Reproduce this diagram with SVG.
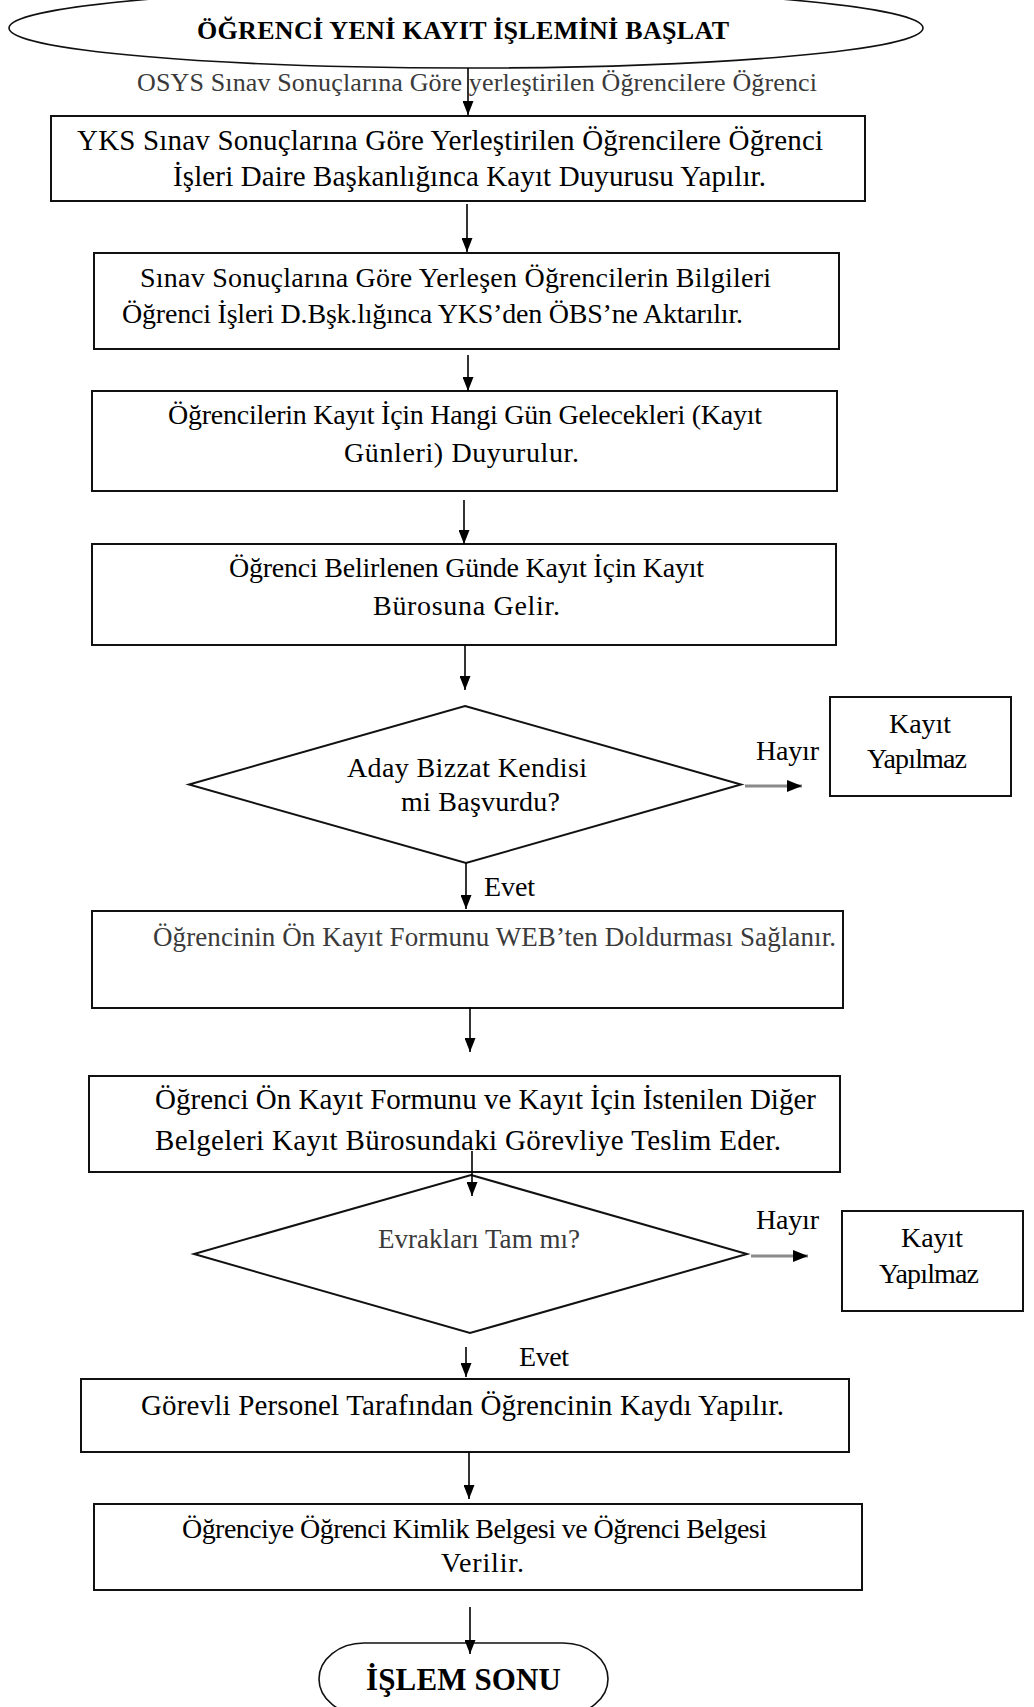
<svg xmlns="http://www.w3.org/2000/svg" width="1034" height="1707" viewBox="0 0 1034 1707" font-size="28">
<defs>
<marker id="ah" viewBox="0 0 14 11" refX="14" refY="5.5" markerWidth="14" markerHeight="11" orient="auto" markerUnits="userSpaceOnUse"><path d="M0,0 L14,5.5 L0,11 z" fill="#000"/></marker>
<marker id="ah2" viewBox="0 0 15 12" refX="15" refY="6" markerWidth="15" markerHeight="12" orient="auto" markerUnits="userSpaceOnUse"><path d="M0,0 L15,6 L0,12 z" fill="#000"/></marker>
</defs>
<style>
text{font-family:"Liberation Serif","Times New Roman",serif;fill:#000}
.b{font-weight:bold}
.g{fill:#3a3a3a}
.box{fill:#fff;stroke:#111;stroke-width:2}
.dia{fill:#fff;stroke:#111;stroke-width:2}
.term{fill:#fff;stroke:#111;stroke-width:1.6}
.c{stroke:#000;stroke-width:1.6;fill:none;marker-end:url(#ah)}
.h{stroke:#8a8a8a;stroke-width:3;fill:none;marker-end:url(#ah2)}
</style>
<rect width="1034" height="1707" fill="#fff"/>
<g id="start">
<ellipse class="term" cx="466" cy="28" rx="457" ry="40"/>
<text class="b" x="197" y="39" font-size="26" textLength="532">ÖĞRENCİ YENİ KAYIT İŞLEMİNİ BAŞLAT</text>
</g>
<g id="note">
<text class="g" x="137" y="91" font-size="26" textLength="680">OSYS Sınav Sonuçlarına Göre yerleştirilen Öğrencilere Öğrenci</text>
</g>
<g id="n1">
<rect class="box" x="51" y="116" width="814" height="85"/>
<text x="77" y="150" font-size="29" textLength="746">YKS Sınav Sonuçlarına Göre Yerleştirilen Öğrencilere Öğrenci</text>
<text x="173" y="185.5" font-size="29" textLength="593">İşleri Daire Başkanlığınca Kayıt Duyurusu Yapılır.</text>
</g>
<g id="n2">
<rect class="box" x="94" y="253" width="745" height="96"/>
<text x="140" y="287" textLength="631">Sınav Sonuçlarına Göre Yerleşen Öğrencilerin Bilgileri</text>
<text x="122" y="323" textLength="621">Öğrenci İşleri D.Bşk.lığınca YKS’den ÖBS’ne Aktarılır.</text>
</g>
<g id="n3">
<rect class="box" x="92" y="391" width="745" height="100"/>
<text x="168" y="424" textLength="594">Öğrencilerin Kayıt İçin Hangi Gün Gelecekleri (Kayıt</text>
<text x="344" y="462" textLength="235">Günleri) Duyurulur.</text>
</g>
<g id="n4">
<rect class="box" x="92" y="544" width="744" height="101"/>
<text x="229" y="577" textLength="475">Öğrenci Belirlenen Günde Kayıt İçin Kayıt</text>
<text x="373" y="615" textLength="187">Bürosuna Gelir.</text>
</g>
<g id="d1">
<polygon class="dia" points="465,706 741,784.5 466,863 189,784.5"/>
<text x="347" y="776.5" textLength="240">Aday Bizzat Kendisi</text>
<text x="401" y="811" textLength="159">mi Başvurdu?</text>
</g>
<g id="r1">
<rect class="box" x="830" y="697" width="181" height="99"/>
<text x="889" y="732.5" textLength="62">Kayıt</text>
<text x="867" y="768" textLength="100">Yapılmaz</text>
</g>
<g id="n5">
<rect class="box" x="92" y="911" width="751" height="97"/>
<text class="g" x="153" y="946" font-size="27" textLength="683">Öğrencinin Ön Kayıt Formunu WEB’ten Doldurması Sağlanır.</text>
</g>
<g id="n6">
<rect class="box" x="89" y="1076" width="751" height="96"/>
<text x="155" y="1109" font-size="29" textLength="661">Öğrenci Ön Kayıt Formunu ve Kayıt İçin İstenilen Diğer</text>
<text x="155" y="1150" font-size="29" textLength="626">Belgeleri Kayıt Bürosundaki Görevliye Teslim Eder.</text>
</g>
<g id="d2">
<polygon class="dia" points="471,1175 747,1254 470,1333 194,1254"/>
<text class="g" x="378" y="1248" font-size="27" textLength="202">Evrakları Tam mı?</text>
</g>
<g id="r2">
<rect class="box" x="842" y="1211" width="181" height="100"/>
<text x="901" y="1247" textLength="62">Kayıt</text>
<text x="879" y="1283" textLength="100">Yapılmaz</text>
</g>
<g id="n7">
<rect class="box" x="81" y="1379" width="768" height="73"/>
<text x="141" y="1415" font-size="29" textLength="643">Görevli Personel Tarafından Öğrencinin Kaydı Yapılır.</text>
</g>
<g id="n8">
<rect class="box" x="94" y="1504" width="768" height="86"/>
<text x="182" y="1538" textLength="585">Öğrenciye Öğrenci Kimlik Belgesi ve Öğrenci Belgesi</text>
<text x="441" y="1572" textLength="83">Verilir.</text>
</g>
<g id="end">
<rect class="term" x="319" y="1643" width="289" height="72" rx="45" ry="36"/>
<text class="b" x="366" y="1690" font-size="31" textLength="195">İŞLEM SONU</text>
</g>
<g id="connectors">
<line class="c" x1="468" y1="68" x2="468" y2="115"/>
<line class="c" x1="467" y1="204" x2="467" y2="252"/>
<line class="c" x1="468" y1="355" x2="468" y2="391"/>
<line class="c" x1="464" y1="500" x2="464" y2="544"/>
<line class="c" x1="465" y1="645" x2="465" y2="690"/>
<line class="h" x1="745" y1="786" x2="802" y2="786"/>
<line class="c" x1="466" y1="863" x2="466" y2="909"/>
<line class="c" x1="470" y1="1007" x2="470" y2="1052"/>
<line class="c" x1="472" y1="1151" x2="472" y2="1196"/>
<line class="h" x1="751" y1="1256" x2="808" y2="1256"/>
<line class="c" x1="466" y1="1347" x2="466" y2="1377"/>
<line class="c" x1="469" y1="1452" x2="469" y2="1499"/>
<line class="c" x1="470" y1="1607" x2="470" y2="1654"/>
<text x="756" y="760" textLength="63">Hayır</text>
<text x="484" y="895.5" textLength="51">Evet</text>
<text x="756" y="1229" textLength="63">Hayır</text>
<text x="519" y="1365.5" textLength="50">Evet</text>
</g>
</svg>
